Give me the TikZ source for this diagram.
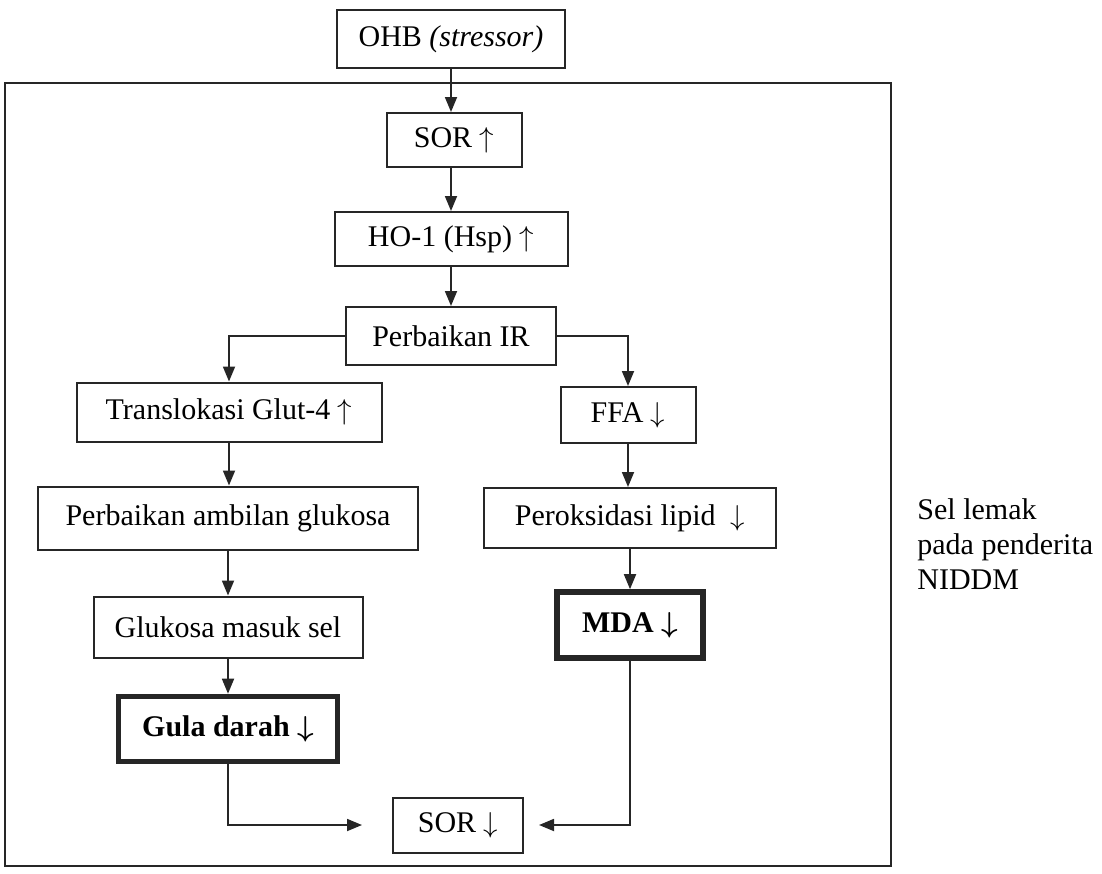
\documentclass[tikz,border=0pt]{standalone}
\usepackage{fontspec}
\usepackage{amsmath}
\setmainfont{Liberation Serif}
\usetikzlibrary{arrows.meta}
\begin{document}
\begin{tikzpicture}[x=0.5pt, y=-0.5pt,
	kotak/.style = {draw=black!85, line width=1pt, inner sep=0pt, font=\fontsize{15}{18}\selectfont},
	tebal/.style = {kotak, line width=2.8pt, font=\fontsize{15}{18}\selectfont\bfseries},
	panah/.style = {draw=black!85, line width=0.9pt, -{Triangle[length=7.5pt,width=6pt]}}]
		\useasboundingbox (0,0) rectangle (1102,873);
		%Kotak
		\draw[black!85, line width=1.1pt] (5,83) rectangle (891,866);
		\node[kotak, minimum width=114pt, minimum height=29pt] (ohb) at (451,39) {OHB \textit{(stressor)}};
		\node[kotak, minimum width=67.5pt, minimum height=27pt] (sorup) at (454,140) {SOR $\uparrow$};
		\node[kotak, minimum width=116.5pt, minimum height=27pt] (ho) at (451,239) {HO-1 (Hsp) $\uparrow$};
		\node[kotak, minimum width=105pt, minimum height=29pt] (ir) at (451,336) {Perbaikan IR};
		\node[kotak, minimum width=152.5pt, minimum height=29.5pt] (glut) at (229,412) {Translokasi Glut-4 $\uparrow$};
		\node[kotak, minimum width=67.5pt, minimum height=28pt] (ffa) at (628,415) {FFA $\downarrow$};
		\node[kotak, minimum width=190pt, minimum height=31.5pt] (ambil) at (228,518) {Perbaikan ambilan glukosa};
		\node[kotak, minimum width=146pt, minimum height=30pt] (perok) at (630,518) {Peroksidasi lipid \ $\downarrow$};
		\node[kotak, minimum width=134.5pt, minimum height=30.5pt] (gluk) at (228,627) {Glukosa masuk sel};
		\node[tebal, minimum width=73pt, minimum height=33pt] (mda) at (630,625) {MDA $\boldsymbol{\downarrow}$};
		\node[tebal, minimum width=109.5pt, minimum height=32.5pt] (gula) at (228,729) {Gula darah $\boldsymbol{\downarrow}$};
		\node[kotak, minimum width=65pt, minimum height=27.5pt] (sordown) at (458,825) {SOR $\downarrow$};
		\node[anchor=west, align=left, inner sep=0pt, font=\fontsize{15}{17.5}\selectfont] (sel) at (917,544) {Sel lemak\\pada penderita\\NIDDM};
		% Panah
		\draw[panah] (ohb.south) -- (ohb.south |- sorup.north);		% OHB-SOR
		\draw[panah] (ho.north |- sorup.south) -- (ho.north);		% SOR-HO
		\draw[panah] (ho.south) -- (ir.north);				% HO-IR
		\draw[panah] (ir.west) -| (glut.north);				% IR-Glut
		\draw[panah] (ir.east) -| (ffa.north);				% IR-FFA
		\draw[panah] (glut.south) -- (glut.south |- ambil.north);	% Glut-ambil
		\draw[panah] (ambil.south) -- (gluk.north);			% ambil-gluk
		\draw[panah] (gluk.south) -- (gula.north);			% gluk-gula
		\draw[panah] (ffa.south) -- (ffa.south |- perok.north);		% FFA-perok
		\draw[panah] (perok.south) -- (mda.north);			% perok-MDA
		\draw[panah, shorten >=15pt] (gula.south) |- (sordown.west);	% gula-SOR
		\draw[panah, shorten >=7.5pt] (mda.south) |- (sordown.east);	% MDA-SOR
\end{tikzpicture}
\end{document}
